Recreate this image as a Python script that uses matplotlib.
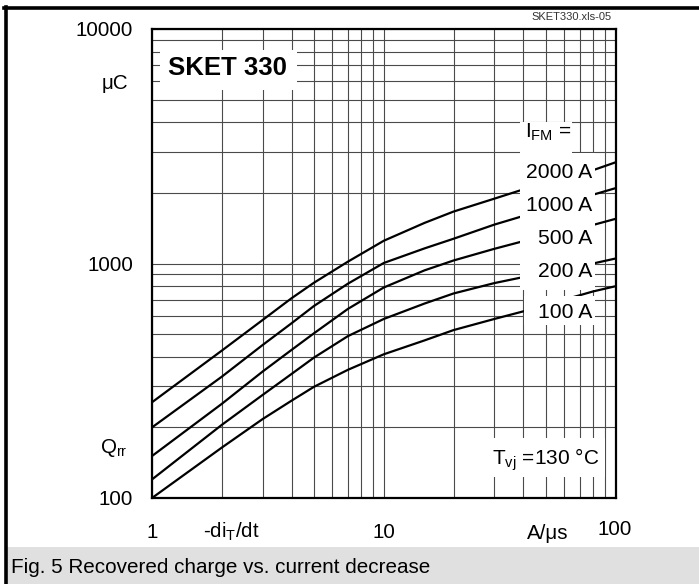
import matplotlib
matplotlib.use("Agg")
import matplotlib.pyplot as plt
from matplotlib.patches import Rectangle
from matplotlib.lines import Line2D

# ---------------- data ----------------
didt = [1, 2, 3, 4, 5, 7, 10, 15, 20, 30, 40, 80, 100]          # -di_T/dt, A/us
q_2000 = [256, 425, 574, 711, 828, 1018, 1250, 1490, 1665, 1890, 2070, 2500, 2700]
q_1000 = [200, 329, 449, 556, 659, 820, 1005, 1160, 1275, 1465, 1595, 1965, 2095]
q_500 = [151, 252, 346, 428, 504, 640, 790, 935, 1030, 1155, 1245, 1460, 1550]
q_200 = [120, 205, 275, 338, 397, 490, 580, 675, 745, 825, 875, 1000, 1050]
q_100 = [100, 164, 217, 260, 298, 352, 410, 470, 520, 580, 625, 760, 800]
series = [q_2000, q_1000, q_500, q_200, q_100]
series_labels = ["2000 A", "1000 A", "500 A", "200 A", "100 A"]
y_tick_labels = ["10000", "1000", "100"]
x_tick_labels = ["1", "10", "100"]

plt.rcParams["font.family"] = ["Liberation Sans", "DejaVu Sans"]
plt.rcParams["mathtext.fontset"] = "custom"
plt.rcParams["mathtext.rm"] = "Liberation Sans"
plt.rcParams["mathtext.it"] = "Liberation Sans:italic"
plt.rcParams["mathtext.bf"] = "Liberation Sans:bold"
plt.rcParams["mathtext.default"] = "regular"

W, H = 699, 584
fig = plt.figure(figsize=(W / 100, H / 100), dpi=100)

# plot area in pixels
L, R, T, B = 152, 615.5, 29, 498
ax = fig.add_axes([L / W, 1 - B / H, (R - L) / W, (B - T) / H])
ax.set_xscale("log")
ax.set_yscale("log")
ax.set_xlim(1, 100)
ax.set_ylim(100, 10000)
ax.grid(True, which="both", color="#4a4a4a", lw=0.8)
ax.set_axisbelow(True)
ax.tick_params(which="both", length=0, labelbottom=False, labelleft=False)
for s in ax.spines.values():
    s.set_linewidth(1.6)
    s.set_color("black")

for q in series:
    ax.plot(didt, q, color="black", lw=1.6, zorder=3, solid_joinstyle="round")


def axf(px, py):
    return (px - L) / (R - L), (B - py) / (B - T)


def white_box(x0, y0, x1, y1):
    ax0, ay1 = axf(x0, y0)
    ax1, ay0 = axf(x1, y1)
    ax.add_patch(Rectangle((ax0, ay0), ax1 - ax0, ay1 - ay0, transform=ax.transAxes,
                           facecolor="white", edgecolor="none", zorder=4))


white_box(160, 50, 297, 90)      # SKET 330
white_box(520, 122, 572, 153)    # I_FM =
white_box(520, 153, 595, 290)    # label column
white_box(524, 296, 595, 325)    # 100 A
white_box(487, 438, 605, 477)    # Tvj


def ptext(px, py, s, **kw):
    kw.setdefault("va", "baseline")
    kw.setdefault("color", "black")
    return fig.text(px / W, 1 - py / H, s, zorder=10, **kw)


# texts inside plot
ptext(227.5, 75, "SKET 330", fontsize=18.5, fontweight="bold", ha="center")
ptext(525, 138, r"I$_{FM}$ =", fontsize=15, ha="left")
for lab, yb in zip(series_labels, [178, 211, 244, 277, 318]):
    ptext(592, yb, lab, fontsize=15.2, ha="right")
ptext(492, 465, r"T$_{vj}$ =130 °C", fontsize=15, ha="left")

# y tick labels
for lab, yc in zip(y_tick_labels, [29, 264, 498]):
    ptext(133, yc + 7, lab, fontsize=14.8, ha="right")
ptext(128, 89, "μC", fontsize=14.8, ha="right")
ptext(100, 453, r"Q$_{rr}$", fontsize=14.8, ha="left")

# x tick labels
for lab, xc, yb in zip(x_tick_labels, [152, 384, 615], [538, 538, 535]):
    ptext(xc, yb, lab, fontsize=14.8, ha="center")
ptext(203, 538, r"-di$_{T}$/dt", fontsize=14.8, ha="left")
ptext(527, 539, "A/μs", fontsize=14.8, ha="left")

ptext(612, 20, "SKET330.xls-05", fontsize=8, ha="right", color="#333333")

# frame and caption band
fig.patches.append(Rectangle((7 / W, 0), 1 - 7 / W, (H - 547) / H, transform=fig.transFigure,
                             facecolor="#e0e0e0", edgecolor="none", zorder=0))
fig.lines.append(Line2D([4 / W, 1], [1 - 8 / H, 1 - 8 / H], transform=fig.transFigure,
                        color="black", lw=2.6))
fig.lines.append(Line2D([5.5 / W, 5.5 / W], [0, 1 - 7 / H], transform=fig.transFigure,
                        color="black", lw=2.6))
ptext(11, 573, "Fig. 5 Recovered charge vs. current decrease", fontsize=14.9, ha="left")

fig.savefig("out.png", dpi=100)
